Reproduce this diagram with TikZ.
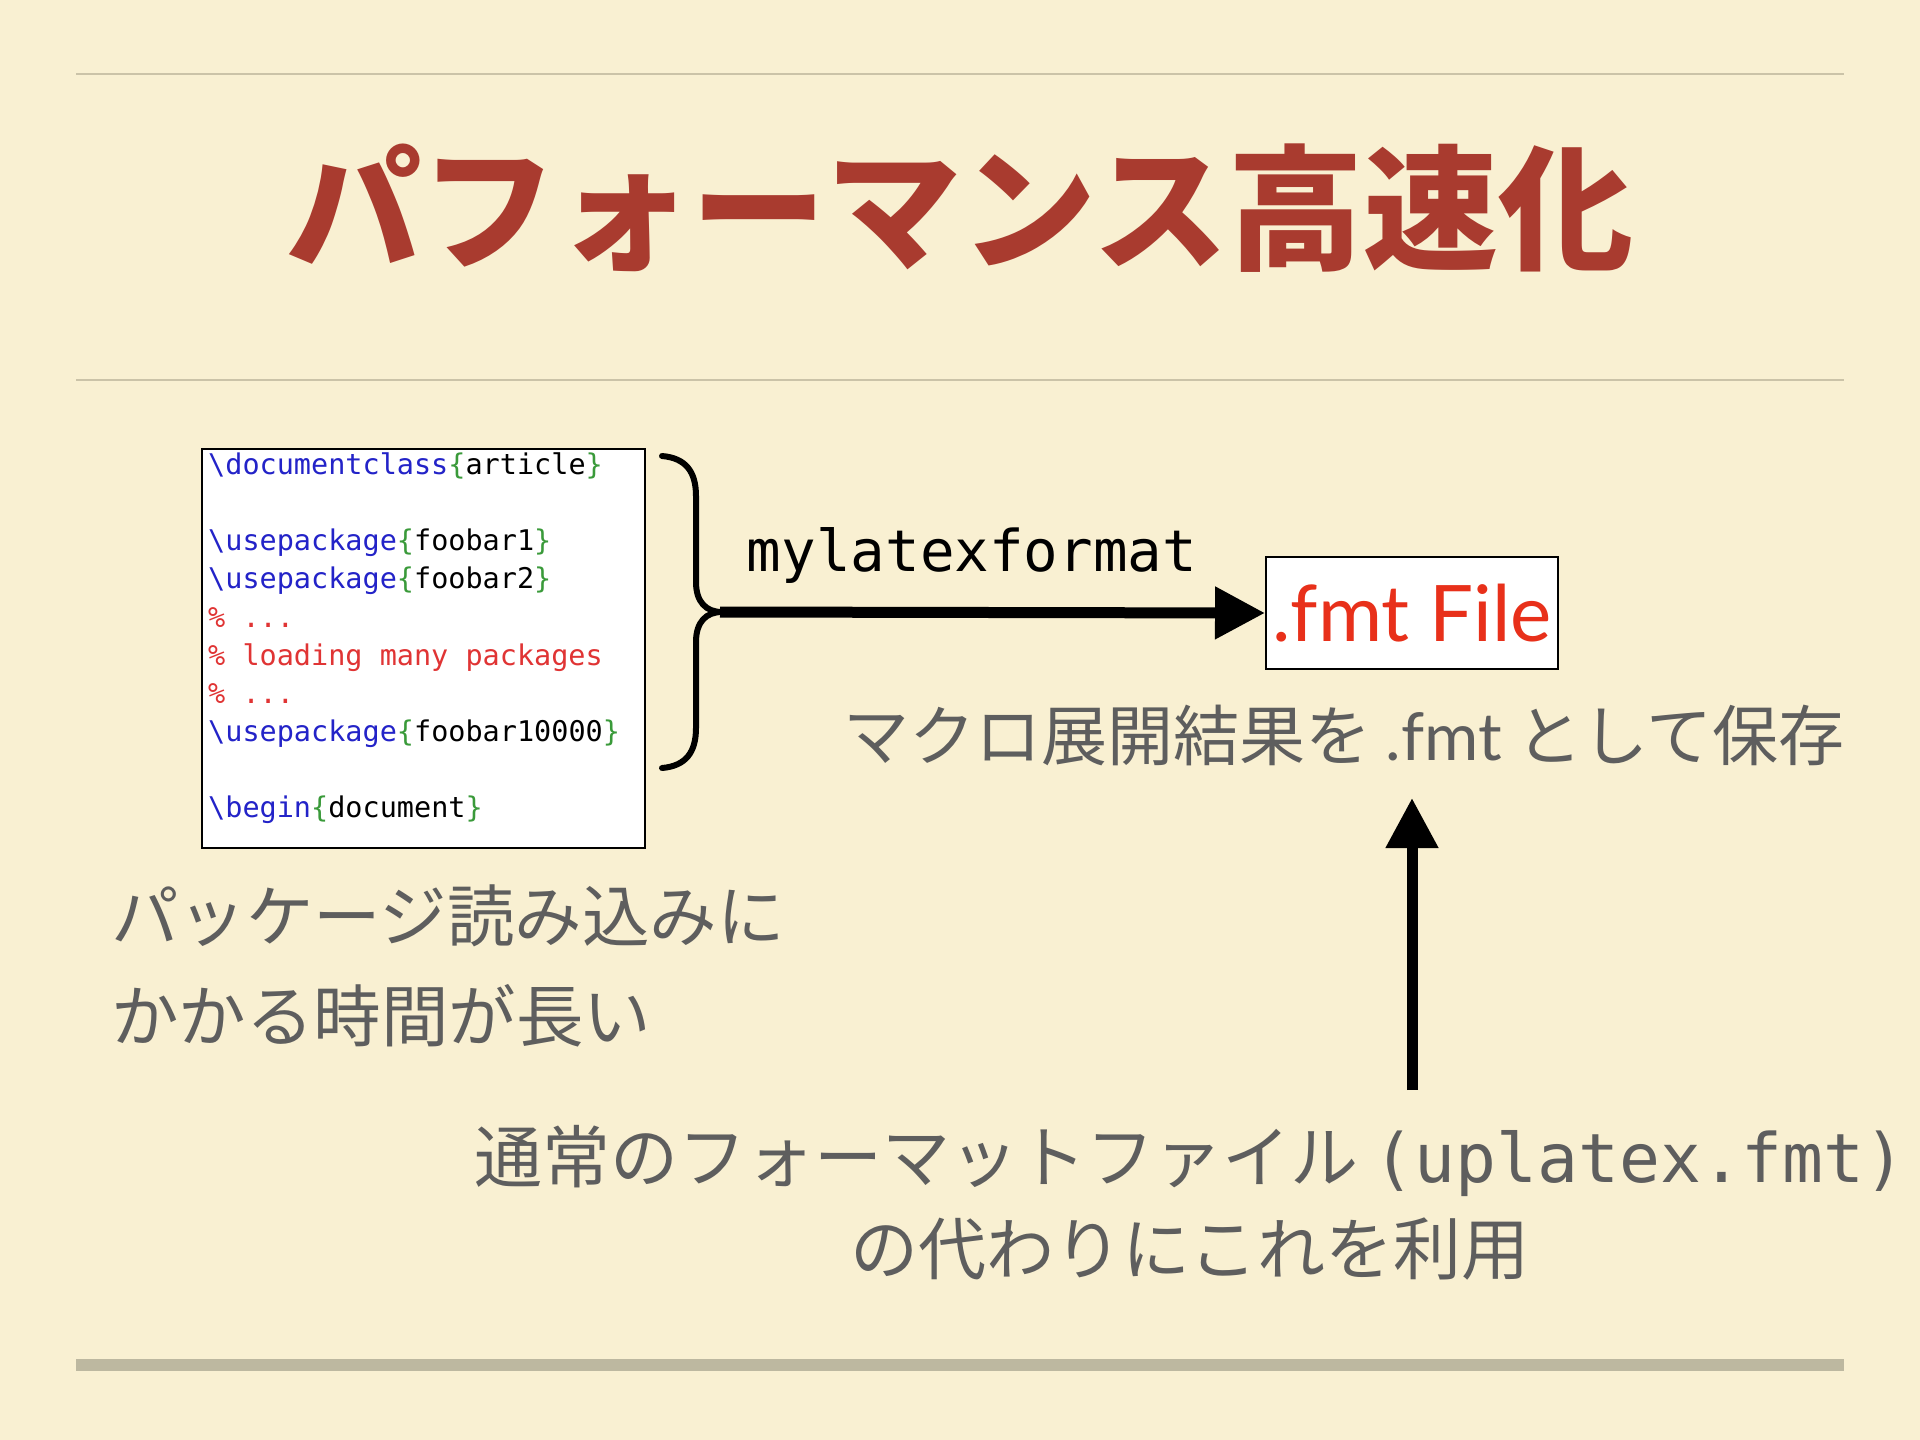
\documentclass[tikz,border=0pt]{standalone}
\usepackage{fontspec}
\usetikzlibrary{arrows.meta}
\newfontfamily\cjk{Noto Sans CJK JP}
\newfontfamily\codefont{DejaVu Sans Mono}
\newfontfamily\gill{Lato}
\definecolor{bgcol}{HTML}{F9F0D2}
\definecolor{titlecol}{HTML}{A93B2F}
\definecolor{rulecol}{HTML}{CBC3A8}
\definecolor{barcol}{HTML}{BDB8A0}
\definecolor{graytext}{HTML}{5E5E5E}
\definecolor{cblue}{HTML}{2323C8}
\definecolor{cgreen}{HTML}{3A9A3A}
\definecolor{cred}{HTML}{E03434}
\definecolor{fmtred}{HTML}{E8301A}
\newcommand\mycodeln[2]{\textcolor{cblue}{\textbackslash #1}\textcolor{cgreen}{\{}#2\textcolor{cgreen}{\}}}
\newcommand\mycomment[1]{\textcolor{cred}{\%\ #1}}
\tikzset{
  codeln/.style={anchor=base west, inner sep=0pt, font=\codefont\fontsize{28.5}{34}\selectfont},
  bodytext/.style={inner sep=0pt, text=graytext, font=\cjk\fontsize{67.5}{100}\selectfont},
  bigarrow/.style={line width=11pt, -{Triangle[length=50pt,width=50pt]}},
  whitebox/.style={draw=black, line width=2pt, fill=white, inner sep=0pt}
}
\begin{document}
\begin{tikzpicture}[x=1pt,y=-1pt]
\fill[bgcol] (0,0) rectangle (1920,1440);
\useasboundingbox (0,0) rectangle (1920,1440);
% rules
\draw[rulecol, line width=2pt] (76,74) -- (1844,74);
\draw[rulecol, line width=2pt] (76,380) -- (1844,380);
\draw[barcol, line width=12pt] (76,1365) -- (1844,1365);
% title
\node (title) [inner sep=0pt, text=titlecol, font=\cjk\bfseries\fontsize{135}{140}\selectfont] at (960,208) {パフォーマンス高速化};
% code box
\node (code) [whitebox, anchor=north west, minimum width=443pt, minimum height=399pt] at (201,448) {};
\node (c1) [codeln] at (208,474) {\mycodeln{documentclass}{article}};
\node (c2) [codeln] at (208,550) {\mycodeln{usepackage}{foobar1}};
\node (c3) [codeln] at (208,588) {\mycodeln{usepackage}{foobar2}};
\node (c4) [codeln] at (208,627) {\mycomment{...}};
\node (c5) [codeln] at (208,665) {\mycomment{loading many packages}};
\node (c6) [codeln] at (208,703) {\mycomment{...}};
\node (c7) [codeln] at (208,741) {\mycodeln{usepackage}{foobar10000}};
\node (c8) [codeln] at (208,817) {\mycodeln{begin}{document}};
% brace
\draw[line width=6pt, line cap=round] (662,456) .. controls (686,458) and (696,472) .. (696,496) -- (696,582) .. controls (696,602) and (706,612) .. (722,612) .. controls (706,612) and (696,622) .. (696,642) -- (696,728) .. controls (696,752) and (686,766) .. (662,768);
\coordinate (tip) at (720,612);
% fmt box
\node (fmt) [whitebox, minimum width=292pt, minimum height=112pt, text=fmtred, font=\gill\fontsize{78}{80}\selectfont] at (1412,613) {.fmt File};
\draw[bigarrow] (tip) -- (fmt.west);
\node (label) [inner sep=0pt, font=\codefont\fontsize{57.5}{60}\selectfont] at (972,555) {mylatexformat};
% mid text
\node (mid) [bodytext, font=\cjk\fontsize{66}{100}\selectfont] at (1344,735) {マクロ展開結果を {\gill .fmt} として保存};
% left text
\node (left) [bodytext, anchor=west, align=left] at (111,966) {パッケージ読み込みに\\かかる時間が長い};
% bottom text
\node (bottom) [bodytext, align=center, font=\cjk\fontsize{68}{92}\selectfont] at (1190,1203) {通常のフォーマットファイル {\codefont (uplatex.fmt)}\\の代わりにこれを利用};
% vertical arrow
\coordinate (vstart) at (1412,1090);
\coordinate (vend) at (1412,798);
\draw[bigarrow] (vstart) -- (vend);
\end{tikzpicture}
\end{document}
